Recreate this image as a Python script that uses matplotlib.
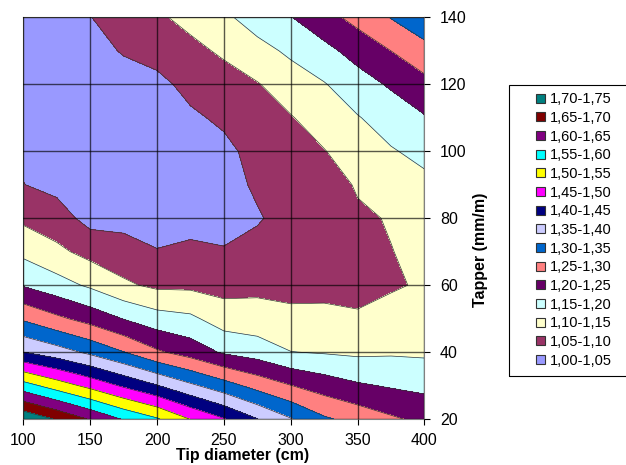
import numpy as np
import matplotlib
matplotlib.use("Agg")
import matplotlib.pyplot as plt
from matplotlib.patches import Patch, Rectangle

plt.rcParams['font.family'] = ['Liberation Sans', 'DejaVu Sans']

# grid of the surface
tip_diameter = [100, 125, 150, 175, 200, 225, 250, 275, 300, 325, 350, 375, 400]
tapper = [20, 30, 40, 50, 60, 70, 80, 90, 100, 110, 120, 130, 140]

# one row per tip diameter, values along tapper 20..140
ratio = [
    [1.740, 1.570, 1.400, 1.293, 1.196, 1.138, 1.090, 1.051, 1.040, 1.030, 1.020, 1.020, 1.020],
    [1.695, 1.526, 1.372, 1.260, 1.170, 1.111, 1.072, 1.0365, 1.025, 1.015, 1.010, 1.010, 1.020],
    [1.645, 1.485, 1.339, 1.231, 1.142, 1.084, 1.033, 1.020, 1.015, 1.010, 1.010, 1.027, 1.048],
    [1.595, 1.442, 1.301, 1.198, 1.108, 1.071, 1.033, 1.012, 1.012, 1.015, 1.022, 1.055, 1.085],
    [1.555, 1.402, 1.257, 1.171, 1.090, 1.0516, 1.035, 1.020, 1.020, 1.025, 1.037, 1.068, 1.093],
    [1.498, 1.359, 1.228, 1.160, 1.0895, 1.0586, 1.035, 1.030, 1.030, 1.042, 1.064, 1.088, 1.113],
    [1.453, 1.3205, 1.193, 1.125, 1.083, 1.053, 1.035, 1.030, 1.038, 1.0585, 1.081, 1.107, 1.140],
    [1.401, 1.282, 1.177, 1.120, 1.088, 1.067, 1.045, 1.058, 1.066, 1.082, 1.097, 1.133, 1.173],
    [1.353, 1.251, 1.151, 1.108, 1.090, 1.075, 1.070, 1.075, 1.085, 1.097, 1.125, 1.159, 1.198],
    [1.307, 1.226, 1.146, 1.113, 1.085, 1.075, 1.070, 1.078, 1.098, 1.1225, 1.147, 1.186, 1.232],
    [1.282, 1.206, 1.141, 1.104, 1.090, 1.085, 1.093, 1.1045, 1.125, 1.147, 1.179, 1.218, 1.266],
    [1.257, 1.195, 1.144, 1.120, 1.094, 1.099, 1.103, 1.124, 1.146, 1.172, 1.206, 1.250, 1.302],
    [1.238, 1.187, 1.142, 1.118, 1.106, 1.110, 1.122, 1.138, 1.1635, 1.196, 1.235, 1.283, 1.335],
]

levels = [1.00, 1.05, 1.10, 1.15, 1.20, 1.25, 1.30, 1.35, 1.40, 1.45, 1.50, 1.55, 1.60, 1.65, 1.70, 1.75]
band_labels = ['1,00-1,05', '1,05-1,10', '1,10-1,15', '1,15-1,20', '1,20-1,25',
               '1,25-1,30', '1,30-1,35', '1,35-1,40', '1,40-1,45', '1,45-1,50',
               '1,50-1,55', '1,55-1,60', '1,60-1,65', '1,65-1,70', '1,70-1,75']
band_colors = ['#9999FF', '#993366', '#FFFFCC', '#CCFFFF', '#660066',
               '#FF8080', '#0066CC', '#CCCCFF', '#000080', '#FF00FF',
               '#FFFF00', '#00FFFF', '#800080', '#800000', '#008080']

Z = np.array(ratio).T

fig = plt.figure(figsize=(6.26, 4.65), dpi=100)
ax = fig.add_axes([0.0372, 0.0989, 0.6409, 0.8635])

ax.contourf(tip_diameter, tapper, Z, levels=levels, colors=band_colors)
ax.contour(tip_diameter, tapper, Z, levels=levels, colors='#333333', linewidths=0.5)

ax.set_xlim(100, 400)
ax.set_ylim(20, 140)
ax.set_xticks(np.arange(100, 401, 50))
ax.set_yticks(np.arange(20, 141, 20))
ax.yaxis.tick_right()
ax.yaxis.set_label_position('right')
ax.grid(True, color='black', alpha=0.65, lw=1)
ax.set_axisbelow(False)
for s in ax.spines.values():
    s.set_color('#808080')
ax.tick_params(axis='both', labelsize=11.5, length=4, color='black')
ax.tick_params(axis='y', pad=7)
ax.tick_params(axis='x', pad=6)

ax.set_xlabel('Tip diameter (cm)', fontsize=11.5, fontweight='bold', labelpad=0)
ax.xaxis.set_label_coords(0.546, -0.071)
ax.set_ylabel('Tapper (mm/m)', fontsize=11.5, fontweight='bold', rotation=90)
ax.yaxis.set_label_coords(1.121, 0.421)

# legend, top entry is the highest band
handles = [Patch(facecolor=c, edgecolor='#333333', lw=0.8) for c in band_colors[::-1]]
fig.legend(handles, band_labels[::-1], loc='upper left',
           bbox_to_anchor=(529 / 626, 1 - 85 / 465), frameon=False,
           fontsize=10.5, handlelength=0.6, handleheight=0.6, handletextpad=0.35,
           labelspacing=0.32, borderpad=0)
fig.patches.append(Rectangle((509 / 626, 1 - 376 / 465), 0.3, (376 - 85) / 465,
                             transform=fig.transFigure, fill=False,
                             ec='black', lw=0.8))

fig.savefig('out.png', dpi=100)
